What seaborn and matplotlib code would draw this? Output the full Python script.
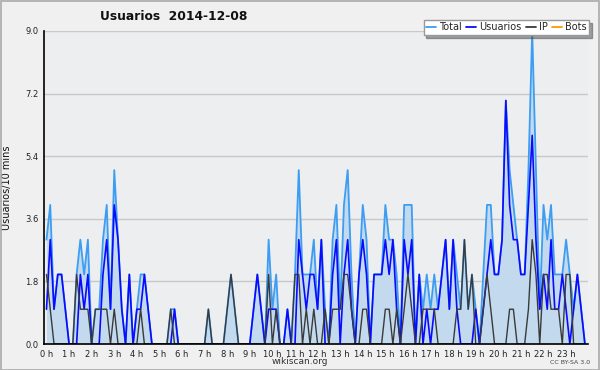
import numpy as np
import pandas as pd
import matplotlib
matplotlib.use("Agg")
import matplotlib.pyplot as plt
from matplotlib.lines import Line2D
import seaborn as sns

# ---- data (one value per 10 minutes, 144 slots) ----
usuarios = [1, 3, 1, 2, 2, 1, 0, 0, 0, 2,
            1, 2, 0, 0, 0, 2, 3, 1, 4, 3,
            1, 0, 2, 0, 1, 1, 2, 1, 0, 0,
            0, 0, 0, 0, 1, 0, 0, 0, 0, 0,
            0, 0, 0, 0, 0, 0, 0, 0, 0, 0,
            0, 0, 0, 0, 0, 1, 2, 1, 0, 1,
            1, 1, 0, 0, 1, 0, 0, 3, 2, 1,
            2, 2, 1, 3, 0, 0, 2, 3, 0, 2,
            3, 1, 0, 2, 3, 2, 0, 2, 2, 2,
            3, 2, 3, 1, 0, 3, 2, 3, 0, 2,
            0, 1, 0, 1, 1, 2, 3, 1, 3, 1,
            0, 0, 0, 0, 1, 0, 1, 2, 3, 2,
            2, 3, 7, 4, 3, 3, 2, 2, 4, 6,
            3, 1, 2, 1, 3, 1, 1, 2, 1, 0,
            1, 2, 1, 0]
ip = [2, 1, 0, 0, 0, 0, 0, 0, 2, 1,
      1, 1, 0, 1, 1, 1, 1, 0, 1, 0,
      0, 0, 0, 0, 0, 1, 0, 0, 0, 0,
      0, 0, 0, 1, 0, 0, 0, 0, 0, 0,
      0, 0, 0, 1, 0, 0, 0, 0, 1, 2,
      1, 0, 0, 0, 0, 0, 0, 0, 0, 2,
      0, 1, 0, 0, 0, 0, 2, 2, 0, 1,
      0, 1, 0, 0, 1, 0, 1, 1, 1, 2,
      2, 1, 0, 0, 1, 1, 0, 0, 0, 0,
      1, 1, 0, 1, 0, 1, 2, 1, 0, 0,
      1, 1, 1, 1, 0, 0, 0, 0, 0, 1,
      1, 3, 1, 2, 0, 0, 1, 2, 1, 0,
      0, 0, 0, 1, 1, 0, 0, 0, 1, 3,
      2, 0, 2, 2, 1, 1, 1, 0, 2, 2,
      0, 0, 0, 0]
total = [3, 4, 1, 2, 2, 1, 0, 0, 2, 3,
         2, 3, 0, 1, 1, 3, 4, 1, 5, 3,
         1, 0, 2, 0, 1, 2, 2, 1, 0, 0,
         0, 0, 0, 1, 1, 0, 0, 0, 0, 0,
         0, 0, 0, 1, 0, 0, 0, 0, 1, 2,
         1, 0, 0, 0, 0, 1, 2, 1, 0, 3,
         1, 2, 0, 0, 1, 0, 2, 5, 2, 2,
         2, 3, 1, 3, 1, 0, 3, 4, 1, 4,
         5, 2, 0, 2, 4, 3, 0, 2, 2, 2,
         4, 3, 3, 2, 0, 4, 4, 4, 0, 2,
         1, 2, 1, 2, 1, 2, 3, 1, 3, 2,
         1, 3, 1, 2, 1, 0, 2, 4, 4, 2,
         2, 3, 7, 5, 4, 3, 2, 2, 5, 9,
         5, 1, 4, 3, 4, 2, 2, 2, 3, 2,
         1, 2, 1, 0]
bots = [0] * 144

hour_labels = ["0 h", "1 h", "2 h", "3 h", "4 h", "5 h", "6 h", "7 h",
               "8 h", "9 h", "10 h", "11 h", "12 h", "13 h", "14 h", "15 h",
               "16 h", "17 h", "18 h", "19 h", "20 h", "21 h", "22 h", "23 h"]
y_ticks = [0.0, 1.8, 3.6, 5.4, 7.2, 9.0]
series_names = ["Total", "Usuarios", "IP", "Bots"]
title_text = "Usuarios  2014-12-08"
ylabel_text = "Usuarios/10 mins"

# ---- style ----
sns.set_style("white")
plt.rcParams["font.family"] = ["DejaVu Sans"]

c_total = "#3d9df2"
c_fill = "#c3daee"
c_user = "#0a0aff"
c_ip = "#3a3a3a"
c_bots = "#ff9900"

hours = np.arange(len(total)) / 6.0
df = pd.DataFrame({"h": hours, "Total": total, "Usuarios": usuarios,
                   "IP": ip, "Bots": bots})

fig = plt.figure(figsize=(6.0, 3.7), dpi=100, facecolor="#f0f0f0")
ax = fig.add_axes([44 / 600, 1 - 344 / 370, 544 / 600, 313 / 370])
ax.set_facecolor("#eceef0")

ax.fill_between(df["h"], 0, df["Total"], color=c_fill, lw=0, zorder=1)
sns.lineplot(data=df, x="h", y="Bots", ax=ax, color=c_bots, lw=1.0, zorder=0.5)
sns.lineplot(data=df, x="h", y="Total", ax=ax, color=c_total, lw=1.3, zorder=3)
sns.lineplot(data=df, x="h", y="Usuarios", ax=ax, color=c_user, lw=1.2, zorder=4)
sns.lineplot(data=df, x="h", y="IP", ax=ax, color=c_ip, lw=1.0, zorder=5)

ax.set_xlim(-0.11, 23.97)
ax.set_ylim(0, 9.0)

ax.set_yticks(y_ticks)
ax.set_yticklabels([f"{v:.1f}" for v in y_ticks], fontsize=6, color="#222")
ax.set_yticks(np.arange(0, 9.01, 0.45), minor=True)
ax.set_xticks(np.arange(24))
ax.set_xticklabels(hour_labels, fontsize=6, color="#222")
ax.set_xticks(np.arange(0, 24, 1 / 6), minor=True)
ax.tick_params(axis="both", which="major", direction="out", length=3.5, width=1,
               color="black", pad=0.5)
ax.tick_params(axis="both", which="minor", direction="out", length=2.2, width=0.8,
               color="black")
ax.grid(axis="y", color="#c8c8c8", lw=1, zorder=0)
ax.grid(axis="x", visible=False)
ax.set_axisbelow(True)

for side in ["top", "right"]:
    ax.spines[side].set_visible(False)
for side in ["left", "bottom"]:
    ax.spines[side].set_color("black")
    ax.spines[side].set_linewidth(1.2)
    ax.spines[side].set_zorder(6)

ax.set_xlabel("")
ax.set_ylabel(ylabel_text, fontsize=7, color="#111")
ax.yaxis.set_label_coords(-0.058, 0.5)

fig.text(100 / 600, 1 - 17 / 370, title_text, fontsize=8.8, fontweight="bold",
         ha="left", va="center", color="#111")
fig.text(300 / 600, 1 - 362 / 370, "wikiscan.org", fontsize=6.5, ha="center",
         va="center", color="#333")
fig.text(590 / 600, 1 - 362 / 370, "CC BY-SA 3.0", fontsize=4.5, ha="right",
         va="center", color="#444")

handles = [Line2D([], [], color=c, lw=1.3) for c in [c_total, c_user, c_ip, c_bots]]
leg = fig.legend(handles, series_names, loc="upper right",
                 bbox_to_anchor=(589 / 600, 1 - 20 / 370), ncol=4, fontsize=7,
                 frameon=True, fancybox=False, shadow=True, handlelength=1.0,
                 handletextpad=0.3, columnspacing=0.5, borderpad=0.25,
                 borderaxespad=0)
leg.get_frame().set_edgecolor("#999999")
leg.get_frame().set_facecolor("white")

# outer border
fig.patches.append(plt.Rectangle((0.001, 0.001), 0.997, 0.997, transform=fig.transFigure,
                                 fill=False, edgecolor="#aaaaaa", lw=1.2))

fig.savefig("out.png", dpi=100, facecolor=fig.get_facecolor())
